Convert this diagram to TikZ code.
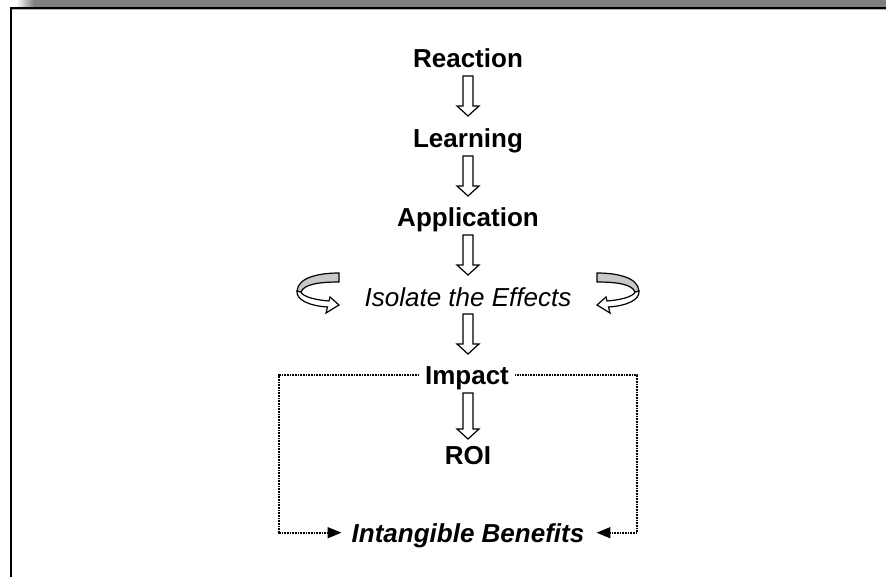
\documentclass[tikz,border=0pt]{standalone}
\usepackage{fontspec}
\setmainfont{Liberation Sans}
\usetikzlibrary{calc,arrows.meta}
\definecolor{shadowgray}{RGB}{128,128,128}
\definecolor{bandgray}{RGB}{200,200,200}
\tikzset{
 lbl/.style={inner sep=0pt, anchor=base, text height=18.6pt, text depth=0pt, font=\fontsize{26}{30}\selectfont\bfseries},
 lblit/.style={lbl, font=\fontsize{26}{30}\selectfont\itshape},
 lblbi/.style={lbl, font=\fontsize{26}{30}\selectfont\bfseries\itshape},
 hollow/.style={draw=black, fill=white, line width=1.2pt, line join=miter},
 dotline/.style={line width=1.7pt, dash pattern=on 1pt off 0.6pt, -{Triangle[length=14pt,width=11pt]}},
 pics/darr/.style={code={\draw[hollow] (-5,0) -- (5,0) -- (5,#1-10) -- (11,#1-10) -- (0,#1) -- (-11,#1-10) -- (-5,#1-10) -- cycle;}},
 pics/curl/.style={code={
   \draw[hollow] (-21,-2) .. controls (-22,7) and (-8,13) .. (9.5,14) -- (8,20) -- (21,12) -- (12,4) -- (11,8) .. controls (-2,7) and (-15,4) .. (-17,-1) -- cycle;
   \draw[hollow, fill=bandgray] (21,-20) .. controls (2,-20) and (-20,-16) .. (-21,-2) -- (-17,-1) .. controls (-14,-9) and (2,-11) .. (21,-11) -- cycle;
 }}
}
\begin{document}
\begin{tikzpicture}[x=1pt,y=-1pt]
\useasboundingbox (0,0) rectangle (886,577);
\fill[white] (0,0) rectangle (886,577);
% frame
\fill[shadowgray] (34,0) rectangle (886,6.7);
\shade[left color=white, right color=shadowgray] (16,0) rectangle (34,6.7);
\draw[gray!60, line width=1pt] (12,9.2) -- (886,9.2);
\draw[line width=2pt] (886,7.7) -- (11,7.7) -- (11,577);
% labels
\node[lbl] (reaction) at (468,68) {Reaction};
\node[lbl] (learning) at (468,148) {Learning};
\node[lbl] (application) at (468,227) {Application};
\node[lblit] (isolate) at (468,306) {Isolate the Effects};
\node[lbl] (impact) at (467,384) {Impact};
\node[lbl] (roi) at (468,464) {ROI};
\node[lblbi] (intang) at (468,542) {Intangible Benefits};
% hollow arrows
\pic at ($(reaction.base)+(0,8)$) {darr=40};
\pic at ($(learning.base)+(0,8)$) {darr=40};
\pic at ($(application.base)+(0,8)$) {darr=40};
\pic at ($(isolate.base)+(0,8)$) {darr=40};
\pic at ($(impact.base)+(1,9)$) {darr=46};
% curled arrows
\pic at ($(isolate.base)+(-150,-13)$) {curl};
\pic[xscale=-1] at ($(isolate.base)+(150,-13)$) {curl};
% dotted connectors
\coordinate (lc) at (279,0);
\coordinate (rc) at (637,0);
\draw[dotline] ([xshift=-6pt]impact.west) -- (impact.west -| lc) |- ([xshift=-10pt]intang.west);
\draw[dotline] ([xshift=6pt]impact.east) -- (impact.east -| rc) |- ([xshift=12pt]intang.east);
\end{tikzpicture}
\end{document}
